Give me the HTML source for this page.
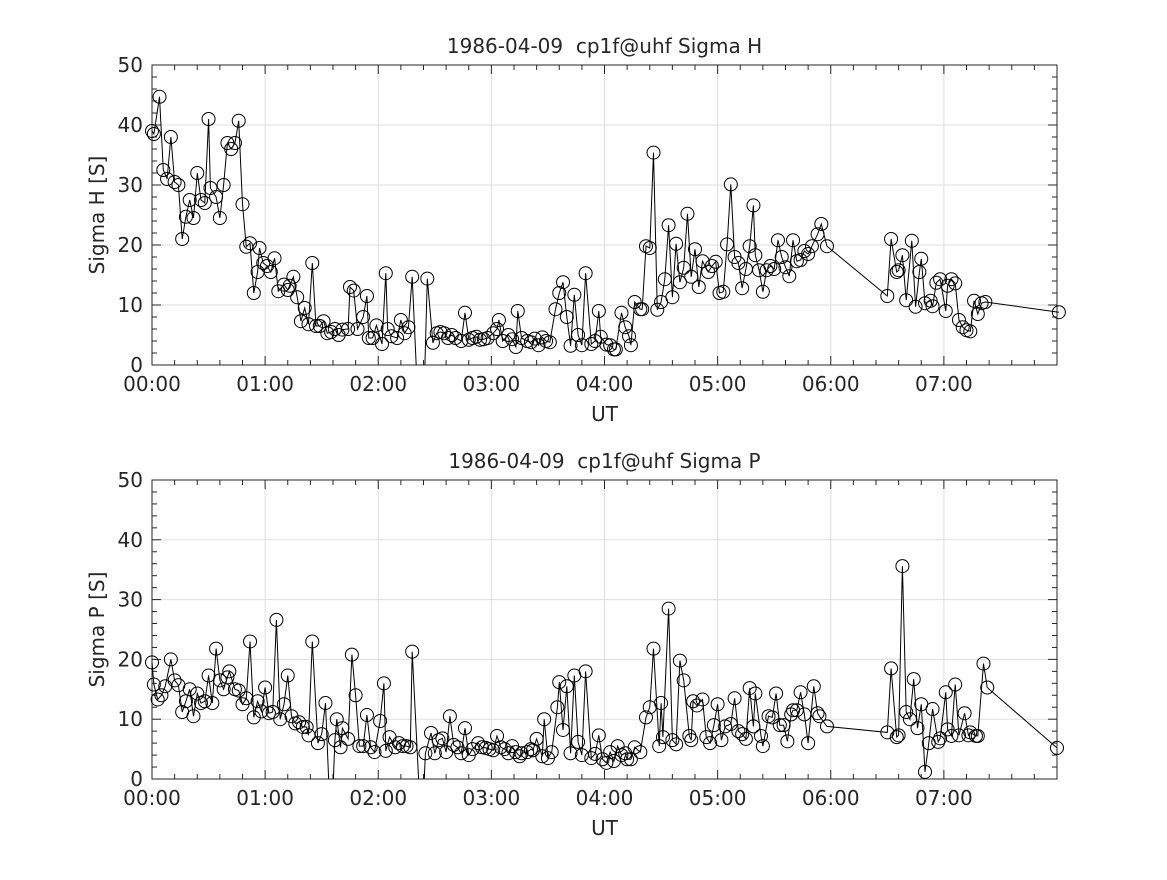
<!DOCTYPE html>
<html><head><meta charset="utf-8"><style>
body{margin:0;background:#fff;}
svg text{font-family:"DejaVu Sans","Liberation Sans",sans-serif;fill:#262626;white-space:pre;}
</style></head><body>
<svg id="c" width="1167" height="875" viewBox="0 0 1167 875" xmlns="http://www.w3.org/2000/svg" xml:space="preserve">
<defs>
<clipPath id="cp1"><rect x="140" y="55" width="930" height="310"/></clipPath>
<clipPath id="cp2"><rect x="140" y="470" width="930" height="309"/></clipPath>
</defs>
</svg>
<script>
// times in minutes UT, values in S
const tH=[0,1,4,6,8,10,12,14,16,18,20,22,24,26,28,30,31,34,36,38,40,42,44,46,48,50,52,54,56,57,59,61,63,65,67,70,72,73,75,77,79,81,83,85,87,89,91,93,95,97,99,101,104,105,107,109,112,114,115,117,119,122,124,125,127,130,132,134,136,138,143,146,149,151,153,155,157,159,161,164,166,168,170,172,174,176,178,181,183,184,186,189,191,193,194,196,199,201,203,205,207,209,211,214,216,218,220,222,224,226,228,230,233,235,237,238,241,243,245,246,249,251,253,254,256,259,260,262,264,266,268,270,272,274,276,278,280,282,284,286,288,290,292,295,297,299,301,303,305,307,309,311,313,315,317,319,320,322,324,326,328,330,332,334,336,338,340,342,344,346,348,350,353,355,358,390,392,395,396,398,400,403,405,407,408,410,413,414,416,418,421,422,424,426,428,430,432,434,436,438,440,442,481];
const vH=[39,38.5,44.7,32.5,31,38,30.5,30,21,24.7,27.5,24.5,32,27.5,27,41,29.5,28,24.5,30,37,36,37,40.7,26.8,19.7,20.3,12,15.5,19.5,17,16.5,15.5,17.8,12.3,13.4,12.5,13.2,14.7,11.3,7.3,9.5,6.8,17,6.5,6.5,7.3,5.3,5.5,6,5,5.9,6,13,12.4,6,8,11.5,4.5,4.5,6.6,3.5,15.3,6,4.8,4.5,7.5,5.3,6.3,14.7,-20,14.4,3.7,5.3,5.5,5.3,4.5,5,4.5,4,8.7,4.2,4.5,4.7,4.2,4.3,4.5,5.3,6,7.5,4,5,4.3,3,9,4.5,4,3.8,4.4,3.3,4.6,4,3.8,9.3,12,13.8,8,3.2,11.7,5,3.3,15.3,3.5,4,9,4.7,3.4,3.3,2.6,2.6,8.7,6.3,4.8,3.3,10.5,9.3,9.3,19.8,19.5,35.4,9.2,10.5,14.3,23.3,11.3,20.2,13.8,16.2,25.2,14.7,19.3,13,17.3,15.5,16.5,17.2,12,12.2,20.1,30.1,18,17,12.8,16,19.8,26.6,18.3,15.8,12.2,15.8,16.5,16,20.8,18,16.3,14.8,20.8,17.3,17.5,19,18.5,19.8,21.8,23.5,19.8,11.5,21,15.5,15.8,18.3,10.8,20.7,9.7,15.5,17.7,10.3,10.7,9.8,13.7,14.3,9,13.2,14.3,13.6,7.5,6.3,5.8,5.6,10.7,8.5,10.3,10.5,8.8];
const tP=[0,1,3,5,7,10,12,14,16,18,20,22,24,26,28,30,32,34,36,38,40,41,44,46,48,50,52,54,56,58,60,62,64,66,68,70,72,74,76,78,80,82,83,85,88,90,92,95,97,98,100,101,104,106,108,110,112,114,116,118,121,123,124,126,129,131,133,135,137,138,143,145,148,150,152,154,156,158,160,162,164,166,168,170,173,175,177,179,181,183,185,187,189,191,193,195,196,199,201,202,204,207,208,210,212,215,216,218,220,222,224,226,228,230,233,235,237,239,241,243,245,247,249,251,252,254,256,259,262,264,266,269,270,271,274,276,278,280,282,285,286,287,289,292,294,296,298,300,302,304,307,309,311,313,315,317,319,320,323,324,327,329,331,333,335,337,339,340,342,344,346,348,351,353,354,358,390,392,395,396,398,400,402,404,406,408,410,412,414,417,418,421,422,424,426,428,431,433,434,437,438,441,443,480];
const vP=[19.5,15.8,13.3,14,15.5,20,16.5,15.7,11.2,13,15,10.5,14.3,12.7,13,17.3,12.7,21.8,16.5,15,17,18,15,14.8,12.5,13.5,23,10.3,13,11.3,15.3,11,11.2,26.6,10,12.5,17.3,10.5,9.3,9.5,8.7,8.7,7.3,23,6,7.5,12.7,-10,6.5,10,5.3,8.5,6.7,20.8,14,5.5,5.5,10.7,5.3,4.5,9.7,16,4.7,7,5.3,6,5.5,5.5,5.3,21.3,-10,4.3,7.7,4.3,6.5,6.8,4.5,10.5,5.7,5.3,4.3,8.5,4,5,6,5.3,5.2,5,4.8,7.2,5.3,5,4.3,5.5,4.5,3.8,4.3,4.5,5,4.8,6.7,3.8,10,3.5,4.5,12,16.2,8.2,15.5,4.3,17.3,6.2,4,18,3.5,4.2,7.3,3.3,2.7,4.5,3,5.5,4,4.3,3.3,3.3,5.3,4.5,10.3,12,21.8,5.5,12.7,7,28.5,6.5,5.8,19.8,16.5,7.2,6.5,13,12.3,13.3,7,6,9,12.5,6.5,8.8,9.2,13.5,8,7.5,6.7,15.2,8.8,14.3,7.2,5.5,10.5,10.3,14.3,9,9,6.3,10.8,11.5,11.5,14.5,10.8,6,15.5,11,10.5,8.8,7.8,18.5,7,7.3,35.6,11.2,10,16.7,8.5,12.5,1.2,6,11.7,6.2,6.8,14.5,8.3,7.2,15.8,7.3,11,7.3,7.8,7.2,7.2,19.3,15.3,5.2];
const xTickLabels=["00:00","01:00","02:00","03:00","04:00","05:00","06:00","07:00"];
const yTickLabels=["0","10","20","30","40","50"];
const titles=["1986-04-09  cp1f@uhf Sigma H","1986-04-09  cp1f@uhf Sigma P"];
const yLabels=["Sigma H [S]","Sigma P [S]"];

const NS="http://www.w3.org/2000/svg";
const svg=document.getElementById('c');
function mk(tag,attrs,parent){const e=document.createElementNS(NS,tag);for(const k in attrs)e.setAttribute(k,attrs[k]);(parent||svg).appendChild(e);return e;}
const X0=152,X1=1057;
function xs(min){return X0+(min/480)*(X1-X0);}

function drawPanel(i,top,bot,times,vals,clip){
  const ys=v=>bot-(v/50)*(bot-top);
  const g=mk('g',{});
  
  
  mk('rect',{x:X0,y:top,width:X1-X0,height:bot-top,fill:'#fff'},g);
  for(let h=1;h<8;h++){const l=mk('line',{x1:xs(h*60),x2:xs(h*60),y1:top,y2:bot,stroke:'#dfdfdf','stroke-width':1},g);
    }
  for(let v=10;v<50;v+=10){const l=mk('line',{x1:X0,x2:X1,y1:ys(v),y2:ys(v),stroke:'#dfdfdf','stroke-width':1},g);
    }
  for(let m=0;m<=480;m+=12){const len=(m%60===0)?9:5;const x=xs(m);
    mk('line',{x1:x,x2:x,y1:bot,y2:bot-len,stroke:'#262626'},g);
    mk('line',{x1:x,x2:x,y1:top,y2:top+len,stroke:'#262626'},g);}
  for(let v=0;v<=50;v+=2){const len=(v%10===0)?9:5;const y=ys(v);
    mk('line',{x1:X0,x2:X0+len,y1:y,y2:y,stroke:'#262626'},g);
    mk('line',{x1:X1,x2:X1-len,y1:y,y2:y,stroke:'#262626'},g);}
  const f=mk('rect',{x:X0,y:top,width:X1-X0,height:bot-top,fill:'none',stroke:'#262626','stroke-width':1},g);
  
  const sg=mk('g',{'clip-path':'url(#'+clip+')'},g);
  
  
  let d='';times.forEach((t,k)=>{d+=(k?'L':'M')+xs(t).toFixed(1)+','+ys(vals[k]).toFixed(1);});
  const p=mk('path',{d:d,fill:'none',stroke:'#000','stroke-width':1},sg);
  
  times.forEach((t,k)=>{if(vals[k]<0)return;const c=mk('circle',{cx:xs(t),cy:ys(vals[k]),r:6.5,fill:'none',stroke:'#000','stroke-width':1},sg);
    });
  xTickLabels.forEach((s,h)=>{const t=mk('text',{x:xs(h*60),y:bot+26,'text-anchor':'middle','font-size':20},g);t.textContent=s;
    });
  yTickLabels.forEach((s,k)=>{const t=mk('text',{x:X0-9,y:ys(k*10)+7,'text-anchor':'end','font-size':20},g);t.textContent=s;
    });
  const xt=mk('text',{x:(X0+X1)/2,y:bot+56,'text-anchor':'middle','font-size':20},g);xt.textContent='UT';
  
  const yc=(top+bot)/2;
  const yt=mk('text',{x:104,y:yc,'text-anchor':'middle','font-size':20,transform:'rotate(-90 104 '+yc+')'},g);yt.textContent=yLabels[i];
  
  const tt=mk('text',{x:(X0+X1)/2,y:top-12,'text-anchor':'middle','font-size':20},g);tt.textContent=titles[i];
  
}
drawPanel(0,65,365,tH,vH,'cp1');
drawPanel(1,480,779,tP,vP,'cp2');
</script>
</body></html>
